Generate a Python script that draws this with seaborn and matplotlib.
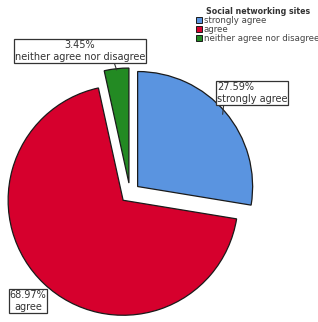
import numpy as np
import matplotlib
matplotlib.use("Agg")
import matplotlib.pyplot as plt
import seaborn as sns
from matplotlib.patches import Patch

categories = ["strongly agree", "agree", "neither agree nor disagree"]
percents = [27.59, 68.97, 3.45]
pct_labels = ["27.59%", "68.97%", "3.45%"]
legend_title = "Social networking sites"

sns.set_theme(style="white")
plt.rcParams['font.family'] = ['DejaVu Sans']
colors = sns.color_palette(["#5a94e0", "#d6002d", "#238a23"])

W, H = 318, 322
fig = plt.figure(figsize=(W / 100, H / 100), dpi=100)
ax = fig.add_axes([0, 0, 1, 1])

R = 115
cx, cy = 130, H - 193
wedges, _ = ax.pie(percents, colors=colors, startangle=90, counterclock=False,
                   explode=[10] * 3, radius=R, center=(cx, cy),
                   wedgeprops=dict(edgecolor="#1a1a1a", linewidth=0.9))
ax.set_xlim(0, W)
ax.set_ylim(0, H)
ax.set_aspect("equal")
ax.axis("off")

def edge_point(w, frac=1.0):
    ang = np.deg2rad((w.theta1 + w.theta2) / 2)
    c = w.center
    return (c[0] + frac * w.r * np.cos(ang), c[1] + frac * w.r * np.sin(ang))

box = dict(boxstyle="square,pad=0.08", fc="white", ec="#333333", lw=0.9)
fs = 7.0
# strongly agree label
ax.annotate(pct_labels[0] + "\n" + categories[0], xy=edge_point(wedges[0], 0.97),
            xytext=(252, H - 93), ha="center", va="center", fontsize=fs,
            multialignment="left", color="#333333", bbox=box,
            arrowprops=dict(arrowstyle="-", color="#333333", lw=0.8,
                            shrinkA=0, shrinkB=0, relpos=(0.1, 0.0)))
# neither label
ax.annotate(pct_labels[2] + "\n" + categories[2], xy=edge_point(wedges[2], 0.99),
            xytext=(80, H - 51), ha="center", va="center", fontsize=fs,
            multialignment="center", color="#333333", bbox=box,
            arrowprops=dict(arrowstyle="-", color="#333333", lw=0.8,
                            shrinkA=0, shrinkB=0, relpos=(0.76, 0.0)))
# agree label
ax.annotate(pct_labels[1] + "\n" + categories[1], xy=(28, H - 301),
            ha="center", va="center", fontsize=fs,
            multialignment="center", color="#333333", bbox=box)

handles = [Patch(facecolor=c, edgecolor="#1a1a1a", lw=0.7) for c in colors]
leg = fig.legend(handles, categories, title=legend_title, loc="upper left",
                 bbox_to_anchor=(196 / W, 1 - 7 / H), frameon=False,
                 fontsize=6.2, title_fontsize=5.7, handlelength=0.7,
                 handleheight=0.8, handletextpad=0.2, labelspacing=0.0,
                 borderpad=0, borderaxespad=0)
leg.get_title().set_fontweight("bold")
leg.get_title().set_color("#333333")
for t in leg.get_texts():
    t.set_color("#444444")

fig.savefig("out.png", dpi=100)
